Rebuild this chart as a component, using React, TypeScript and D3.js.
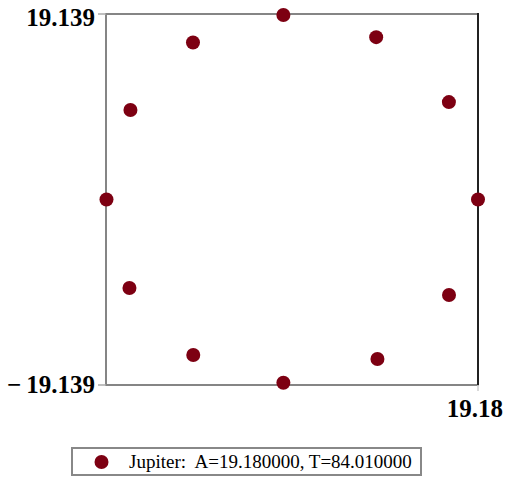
import React from "react";
import * as d3 from "d3";

const seriesName = "Jupiter:  A=19.180000, T=84.010000";
const xValues = [19.18, 16.18, 8.68, -0.89, -10.21, -16.66, -19.13, -16.76, -10.18, -0.89, 8.81, 16.19];
const yValues = [0.0, 10.05, 16.75, 19.04, 16.2, 9.23, 0.0, -9.13, -16.04, -18.9, -16.45, -9.85];
const xDomain = [-19.18, 19.18];
const yDomain = [-19.139, 19.139];
const xTickLabels = ["19.18"];
const yTickLabels = ["19.139", "\u221219.139"];

function TickLabel({ label, x, y }: { label: string; x: number; y: number }) {
  const neg = label.startsWith("\u2212");
  const font = "'Liberation Serif', 'Times New Roman', serif";
  return (
    <text x={x} y={y} textAnchor="end" fontFamily={font} fontWeight="bold" fontSize={25} fill="#000">
      {neg ? (
        <>
          <tspan>{"\u2212"}</tspan>
          <tspan dx={5}>{label.slice(1)}</tspan>
        </>
      ) : (
        label
      )}
    </text>
  );
}

export default function App() {
  const W = 509, H = 477;
  const left = 106, right = 478, top = 14, bottom = 385;
  const x = d3.scaleLinear().domain(xDomain).range([left, right]);
  const y = d3.scaleLinear().domain(yDomain).range([bottom, top]);
  const pts = xValues.map((v, i) => [v, yValues[i]]);
  const color = "#7d0012";
  const font = "'Liberation Serif', 'Times New Roman', serif";
  return (
    <svg width={W} height={H} style={{ position: "absolute", left: 0, top: 0, background: "#fff" }}>
      <rect x={left} y={top} width={right - left} height={bottom - top} fill="none" stroke="#858585" strokeWidth={2} />
      <line x1={right} x2={right} y1={top - 1} y2={bottom} stroke="#000" strokeWidth={1.5} />
      <line x1={left - 8} x2={left} y1={y(yDomain[1])} y2={y(yDomain[1])} stroke="#aaa" strokeWidth={1.5} />
      <line x1={left - 8} x2={left} y1={y(yDomain[0])} y2={y(yDomain[0])} stroke="#aaa" strokeWidth={1.5} />
      <line x1={x(xDomain[1])} x2={x(xDomain[1])} y1={bottom} y2={bottom + 6} stroke="#ccc" strokeWidth={1.5} />
      <TickLabel label={yTickLabels[0]} x={95} y={26} />
      <TickLabel label={yTickLabels[1]} x={95} y={393} />
      <TickLabel label={xTickLabels[0]} x={503} y={417} />
      {pts.map((p, i) => (
        <circle key={i} cx={x(p[0])} cy={y(p[1])} r={7} fill={color} />
      ))}
      <rect x={72} y={448} width={349} height={27} fill="#fff" stroke="#888" strokeWidth={2} />
      <circle cx={101.5} cy={462} r={7} fill={color} />
      <text x={129} y={468} fontFamily={font} fontSize={19} fill="#000" style={{ whiteSpace: "pre" }}>{seriesName}</text>
    </svg>
  );
}
